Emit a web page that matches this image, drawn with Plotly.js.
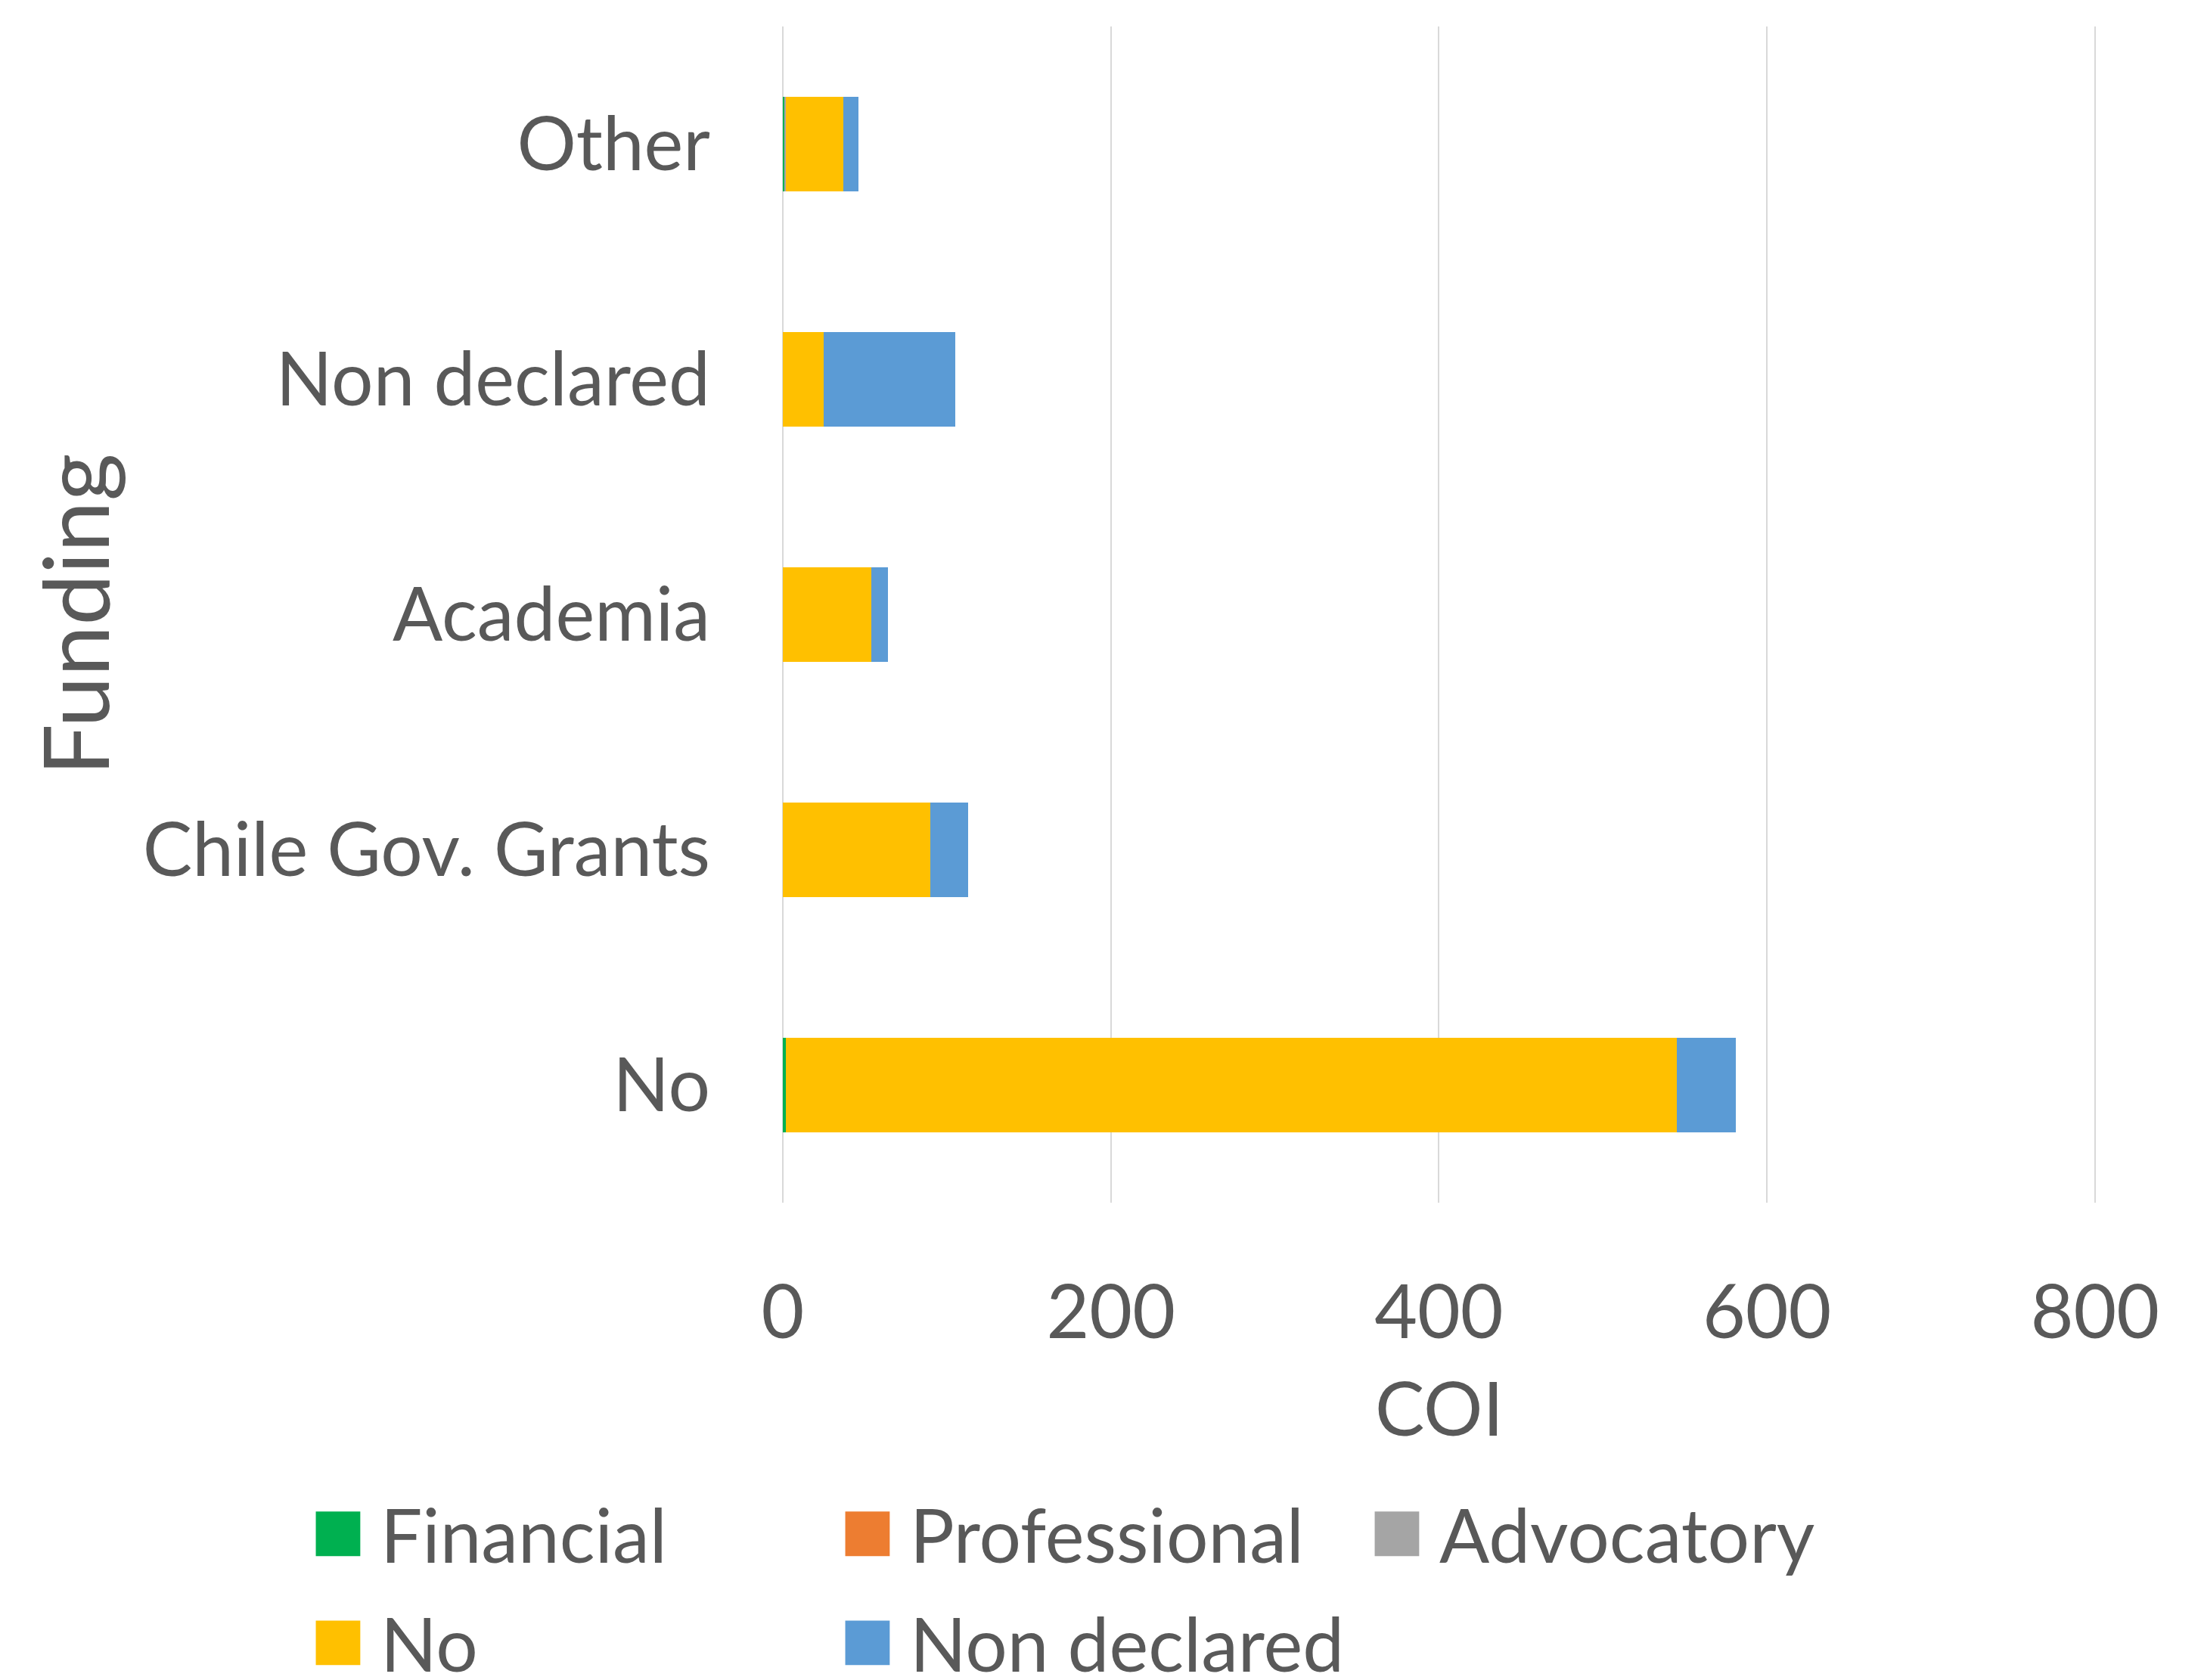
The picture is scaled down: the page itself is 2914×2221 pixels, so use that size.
<!DOCTYPE html>
<html>
<head>
<meta charset="utf-8">
<script src="https://cdn.plot.ly/plotly-3.0.1.min.js"></script>
<style>
html, body { margin: 0; padding: 0; background: #ffffff; }
#chart { width: 2914px; height: 2221px; }
</style>
</head>
<body>
<div id="chart"></div>
<script>
// ---- Data ----
const categories = ['No', 'Chile Gov. Grants', 'Academia', 'Non declared', 'Other'];
const financial    = [2, 0, 0, 0, 1];
const professional = [0, 0, 0, 0, 0];
const advocatory   = [0, 0, 0, 0, 1];
const noCOI        = [543, 90, 54, 25, 35];
const nonDeclared  = [36, 23, 10, 80, 9];

const seriesNames  = ['Financial', 'Professional', 'Advocatory', 'No', 'Non declared'];
const seriesValues = [financial, professional, advocatory, noCOI, nonDeclared];
const seriesColors = ['#00B050', '#ED7D31', '#A5A5A5', '#FFC000', '#5B9BD5'];
const seriesLegend = ['legend', 'legend', 'legend', 'legend2', 'legend2'];

const FONT = 'Lato, "Noto Sans", sans-serif';
const TEXT = '#595959';

const traces = seriesNames.map((name, i) => ({
  type: 'bar',
  orientation: 'h',
  name: name,
  y: categories,
  x: seriesValues[i],
  marker: { color: seriesColors[i], line: { width: 0 } },
  legend: seriesLegend[i],
  hoverinfo: 'x+name'
}));

const legendCommon = {
  orientation: 'h',
  xref: 'paper', yref: 'paper',
  xanchor: 'left', yanchor: 'middle',
  x: -0.371,
  font: { family: FONT, size: 98, color: TEXT },
  itemwidth: 102,
  entrywidth: 583,
  entrywidthmode: 'pixels',
  itemclick: false, itemdoubleclick: false,
  bgcolor: 'rgba(0,0,0,0)',
  traceorder: 'normal'
};

const layout = {
  width: 2914, height: 2221,
  paper_bgcolor: '#ffffff', plot_bgcolor: '#ffffff',
  margin: { l: 1035, r: 143, t: 35, b: 631, autoexpand: false },
  barmode: 'stack',
  bargap: 0.6,
  font: { family: FONT, color: TEXT },
  xaxis: {
    range: [0, 800.5],
    tick0: 0, dtick: 200,
    showgrid: true, gridcolor: '#D9D9D9', gridwidth: 2,
    zeroline: true, zerolinecolor: '#D9D9D9', zerolinewidth: 2,
    showline: false, ticks: '',
    ticklabelstandoff: 80,
    tickfont: { family: FONT, size: 98, color: TEXT },
    title: { text: 'COI', font: { family: FONT, size: 98, color: TEXT }, standoff: 40 }
  },
  yaxis: {
    type: 'category',
    categoryorder: 'array', categoryarray: categories,
    showgrid: false, zeroline: false, showline: false, ticks: '',
    ticklabelstandoff: 95,
    tickfont: { family: FONT, size: 98, color: TEXT },
    title: { text: 'Funding', font: { family: FONT, size: 121, color: TEXT }, standoff: 3 }
  },
  legend: Object.assign({}, legendCommon, { y: -0.2817 }),
  legend2: Object.assign({}, legendCommon, { y: -0.3744 }),
  showlegend: true
};

Plotly.newPlot('chart', traces, layout, { staticPlot: true, displayModeBar: false }).then(gd => {
  // enlarge the legend colour swatches to match the reference's square keys
  const k = 4.9;
  gd.querySelectorAll('.legendpoints path').forEach(p => {
    const t = p.getAttribute('transform') || '';
    p.setAttribute('transform', t + ' scale(' + k + ')');
    p.style.strokeWidth = '0';
  });
});
</script>
</body>
</html>
